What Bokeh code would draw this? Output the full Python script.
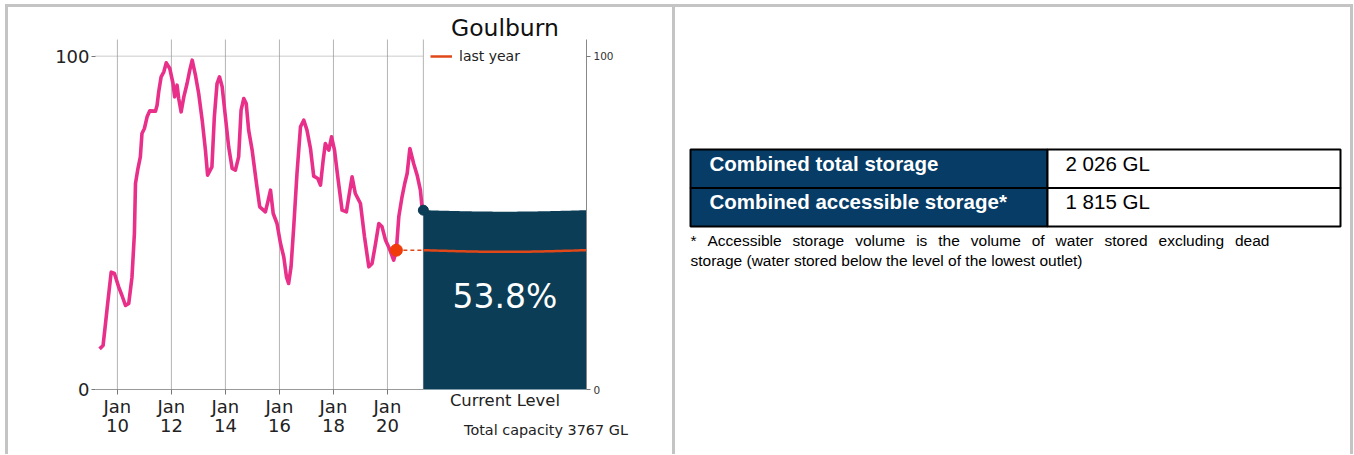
import glob
import numpy as np
from bokeh.plotting import figure
from bokeh.models import Range1d, LinearAxis, FixedTicker, Legend, LegendItem, Spacer
from bokeh.layouts import row, column
from bokeh.core.properties import value
from bokeh.embed import file_html
from bokeh.resources import INLINE

# ---------------- data ----------------
dam_name = "Goulburn"
dates = [2009.34, 2009.47, 2009.56, 2009.64, 2009.77, 2009.89, 2010.05, 2010.17,
         2010.30, 2010.42, 2010.54, 2010.63, 2010.67, 2010.75, 2010.85, 2010.91,
         2011.00, 2011.10, 2011.20, 2011.41, 2011.47, 2011.53, 2011.62, 2011.72,
         2011.81, 2011.94, 2012.06, 2012.12, 2012.21, 2012.27, 2012.36, 2012.46,
         2012.58, 2012.68, 2012.77, 2012.89, 2013.01, 2013.14, 2013.26, 2013.34,
         2013.50, 2013.59, 2013.69, 2013.78, 2013.88, 2014.00, 2014.12, 2014.25,
         2014.37, 2014.49, 2014.58, 2014.68, 2014.77, 2014.86, 2014.99, 2015.15,
         2015.27, 2015.48, 2015.57, 2015.67, 2015.77, 2015.91, 2016.04, 2016.16,
         2016.26, 2016.34, 2016.43, 2016.53, 2016.65, 2016.78, 2016.90, 2017.02,
         2017.15, 2017.27, 2017.42, 2017.52, 2017.62, 2017.70, 2017.83, 2017.93,
         2018.04, 2018.16, 2018.32, 2018.48, 2018.57, 2018.69, 2018.81, 2019.00,
         2019.15, 2019.31, 2019.43, 2019.56, 2019.68, 2019.80, 2019.93, 2020.07,
         2020.23, 2020.33, 2020.42, 2020.54, 2020.64, 2020.73, 2020.83, 2020.97,
         2021.10, 2021.22, 2021.28, 2021.33]
storage_pct = [12.2, 13.2, 19.8, 25.8, 35.2, 34.8, 30.7, 28.2,
               25.2, 25.8, 33.7, 46.8, 61.8, 65.8, 69.8, 76.8,
               78.3, 81.8, 83.6, 83.5, 85.3, 89.3, 93.8, 95.3,
               98.0, 96.3, 91.8, 87.8, 91.3, 87.3, 83.3, 87.8,
               91.8, 95.8, 98.8, 94.3, 88.8, 80.8, 71.8, 64.3,
               66.8, 81.8, 91.8, 93.8, 90.8, 81.8, 72.8, 66.3,
               65.8, 69.8, 83.8, 87.3, 85.8, 77.8, 71.8, 61.8,
               54.8, 53.3, 56.3, 59.8, 52.8, 49.8, 43.8, 39.8,
               33.8, 31.8, 36.8, 48.8, 64.8, 78.8, 80.8, 77.8,
               72.3, 64.0, 63.3, 61.3, 68.8, 73.8, 71.8, 75.8,
               71.8, 63.8, 53.8, 53.3, 57.8, 63.8, 58.8, 55.8,
               45.8, 36.8, 37.8, 43.8, 49.8, 48.8, 44.8, 42.3,
               38.8, 41.8, 51.8, 57.8, 61.8, 64.8, 72.3, 67.8,
               64.3, 59.8, 54.8, 53.8]
current_pct = 53.8
last_year_date = 2020.33
last_year_pct = 41.8
tick_years = [2010, 2012, 2014, 2016, 2018, 2020]
tick_labels = ["Jan\n10", "Jan\n12", "Jan\n14", "Jan\n16", "Jan\n18", "Jan\n20"]
y_ticks = [0, 100]
legend_label = "last year"
current_label = "Current Level"
capacity_label = "Total capacity 3767 GL"

table_labels = ["Combined total storage", "Combined accessible storage*"]
table_values = ["2 026 GL", "1 815 GL"]
footnote_lines = [
    "* Accessible storage volume is the volume of water stored excluding dead",
    "storage (water stored below the level of the lowest outlet)",
]

# ---------------- styles ----------------
PINK = "#e8308a"
TEAL = "#0b3d56"
ORANGE = "#e0481a"
RED = "#f03c0a"
GRID = "#b4b4b4"
FRAME_GRAY = "#c4c4c4"
TABLE_BLUE = "#063c66"
FONT = "DejaVu Sans"
TFONT = "Liberation Sans"

# axis extents (data) and frame padding so the plot frame covers the canvas
X0, X1 = 2009.19, 2027.37          # left axis / right axis positions
PXY = 27.0                          # px per year
PYU = 350.0 / 105.0                 # px per percent
XL, XR = X0 - 87 / PXY, X1 + 86 / PXY
YT, YB = 105 + 32 / PYU, -65 / PYU
box_start = dates[-1]
box_center = (box_start + X1) / 2

# ---------------- chart figure ----------------
p = figure(width=664, height=447, x_range=Range1d(XL, XR), y_range=Range1d(YB, YT),
           output_backend="svg", toolbar_location=None, min_border=0)
p.outline_line_color = None
p.background_fill_color = "white"
p.border_fill_color = "white"
p.grid.visible = False

# bottom axis (drawn at y = 0)
xa = p.xaxis[0]
xa.fixed_location = 0
xa.ticker = FixedTicker(ticks=tick_years)
xa.major_label_overrides = dict(zip(tick_years, tick_labels))
xa.bounds = (X0, box_start)
xa.axis_line_color = "#999999"
xa.major_tick_line_color = "#777777"
xa.major_tick_out = 5
xa.major_tick_in = 0
xa.minor_tick_line_color = None
xa.major_label_text_font = FONT
xa.major_label_text_font_size = "18px"
xa.major_label_text_color = "#222222"
xa.major_label_text_line_height = 0.95
xa.major_label_standoff = 1

# left axis
ya = p.yaxis[0]
ya.fixed_location = X0
ya.bounds = (0, 105)
ya.ticker = FixedTicker(ticks=y_ticks)
ya.axis_line_color = None
ya.major_tick_line_color = "#777777"
ya.major_tick_out = 4
ya.major_tick_in = 0
ya.minor_tick_line_color = None
ya.major_label_text_font = FONT
ya.major_label_text_font_size = "18px"
ya.major_label_text_color = "#222222"
ya.major_label_standoff = 2

# right axis
ra = LinearAxis(ticker=FixedTicker(ticks=y_ticks), fixed_location=X1, bounds=(0, 105))
ra.axis_line_color = "#888888"
ra.major_tick_line_color = "#777777"
ra.major_tick_out = 4
ra.major_tick_in = 0
ra.minor_tick_line_color = None
ra.major_label_text_font = FONT
ra.major_label_text_font_size = "10.5px"
ra.major_label_text_color = "#333333"
ra.major_label_standoff = 3
p.add_layout(ra, "right")

# grid lines (limited to the 0-105 band)
grid_x = tick_years + [box_start]
p.segment(x0=grid_x, y0=[0] * len(grid_x), x1=grid_x, y1=[105] * len(grid_x),
          line_color=GRID, line_width=1)
p.segment(x0=[X0], y0=[100], x1=[box_start], y1=[100], line_color="#999999",
          line_width=1, line_dash="1 1")

# history line
p.line(dates, storage_pct, line_color=PINK, line_width=3.6, line_join="round")

# current level box with gently waving surface
t = np.linspace(0, 1, 80)
bx = box_start + t * (X1 - box_start)
p.varea(x=bx, y1=np.zeros_like(bx), y2=current_pct - 0.45 * np.sin(np.pi * t),
        fill_color=TEAL)
ly = p.line(bx, last_year_pct - 0.5 * np.sin(np.pi * t), line_color=ORANGE,
            line_width=2.5)
p.line([last_year_date, box_start], [last_year_pct, last_year_pct],
       line_color=ORANGE, line_width=1.5, line_dash="4 3")
p.scatter([last_year_date], [last_year_pct], size=12, fill_color=RED, line_color=RED)
p.scatter([box_start], [current_pct], size=10, fill_color=TEAL, line_color=TEAL)

p.text(x=[box_center], y=[27.9], text=[f"{current_pct}%"],
       text_font=value(FONT), text_font_size="33px", text_color="white",
       text_align="center", text_baseline="middle")
p.text(x=[box_center], y=[108.6], text=[dam_name], text_font=value(FONT),
       text_font_size="23.5px", text_color="#111111", text_align="center",
       text_baseline="middle")
p.text(x=[box_center], y=[-3.3], text=[current_label], text_font=value(FONT),
       text_font_size="16.4px", text_color="#222222", text_align="center",
       text_baseline="middle")
p.text(x=[2025.87], y=[-12.0], text=[capacity_label], text_font=value(FONT),
       text_font_size="14.4px", text_color="#222222", text_align="center",
       text_baseline="middle")

legend = Legend(items=[LegendItem(label=legend_label, renderers=[ly])],
                location=(422, 390), padding=0, margin=0,
                glyph_width=22, glyph_height=14, label_standoff=7,
                label_text_font=FONT, label_text_font_size="14px",
                label_text_color="#222222",
                border_line_color=None, background_fill_alpha=0)
p.add_layout(legend)

# ---------------- table panel ----------------
QW, QH = 675, 447
q = figure(width=QW, height=QH, x_range=Range1d(0, QW), y_range=Range1d(QH, 0),
           output_backend="svg", toolbar_location=None,
           x_axis_location=None, y_axis_location=None, min_border=0)
q.outline_line_color = None
q.grid.visible = False
q.background_fill_color = "white"
q.border_fill_color = "white"

row_top = [142, 180.5]
row_bot = [180.5, 219]
q.quad(left=[15, 15], right=[372, 372], top=row_top, bottom=row_bot,
       fill_color=TABLE_BLUE, line_color="black", line_width=2)
q.quad(left=[372, 372], right=[665, 665], top=row_top, bottom=row_bot,
       fill_color="white", line_color="black", line_width=2)
q.text(x=[34, 34], y=[156, 194], text=table_labels, text_font=value(TFONT),
       text_font_style="bold", text_font_size="20.5px", text_color="white",
       text_baseline="middle")
q.text(x=[390, 390], y=[156, 194], text=table_values, text_font=value(TFONT),
       text_font_size="20.5px", text_color="black", text_baseline="middle")

# footnote: first line justified, second line plain
FN_SIZE = 15.5
FN_LEFT, FN_RIGHT = 15, 594
FN_Y = [233, 253]


def word_widths(words, size):
    try:
        from PIL import ImageFont
        cands = (glob.glob("/usr/share/fonts/**/LiberationSans-Regular.ttf", recursive=True)
                 + glob.glob("/usr/local/share/fonts/**/LiberationSans-Regular.ttf", recursive=True))
        f = ImageFont.truetype(cands[0], int(round(size)))
        scale = size / int(round(size))
        return [f.getlength(w) * scale for w in words]
    except Exception:
        return None


words = footnote_lines[0].split(" ")
ww = word_widths(words, FN_SIZE)
if ww is not None and len(words) > 1:
    gap = (FN_RIGHT - FN_LEFT - sum(ww)) / (len(words) - 1)
    xs, cur = [], FN_LEFT
    for w in ww:
        xs.append(cur)
        cur += w + gap
    q.text(x=xs, y=[FN_Y[0]] * len(words), text=words, text_font=value(TFONT),
           text_font_size=f"{FN_SIZE}px", text_color="black",
           text_baseline="middle")
else:
    q.text(x=[FN_LEFT], y=[FN_Y[0]], text=[footnote_lines[0]], text_font=value(TFONT),
           text_font_size=f"{FN_SIZE}px", text_color="black",
           text_baseline="middle")
q.text(x=[FN_LEFT], y=[FN_Y[1]], text=[footnote_lines[1]], text_font=value(TFONT),
       text_font_size=f"{FN_SIZE}px", text_color="black", text_baseline="middle")

# ---------------- layout with grey frame ----------------
def bar(w, h):
    return Spacer(width=w, height=h, styles={"background-color": FRAME_GRAY})


inner = column(bar(3 + 664 + 3 + QW + 3, 3),
               row(bar(3, QH), p, bar(3, QH), q, bar(3, QH)))
layout = column(Spacer(width=1353, height=4), row(Spacer(width=5, height=QH + 3), inner))

open("out.html", "w").write(file_html(layout, INLINE))
